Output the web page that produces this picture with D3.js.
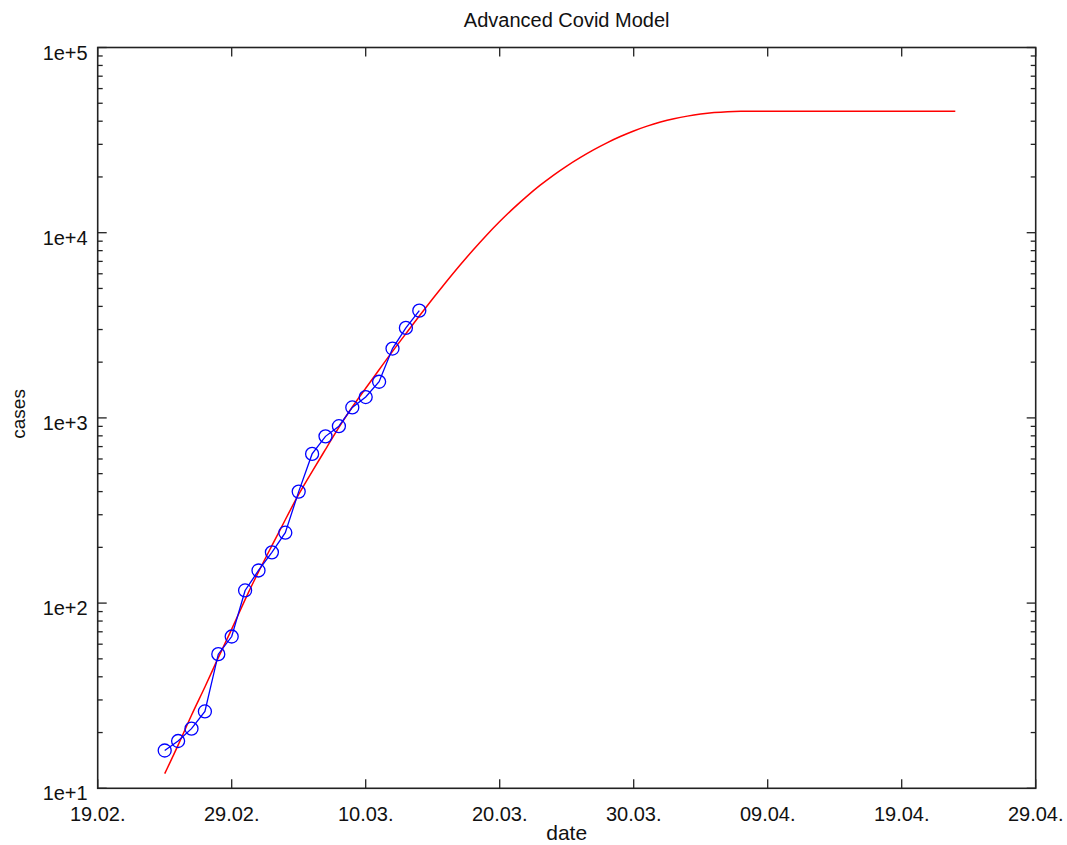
<!DOCTYPE html>
<html>
<head>
<meta charset="utf-8">
<script src="https://cdn.jsdelivr.net/npm/d3@7"></script>
<style>
  body { margin: 0; background: #fff; }
  text { font-family: "Liberation Sans", Arial, sans-serif; fill: #111; }
</style>
</head>
<body>
<div id="box"></div>
<script>
// canvas
const width = 1067
const height = 845
const margin = {top: 47.5, right: 31.3, bottom: 56.7, left: 97.7}

// data: reported cases, one per day starting 24.02.
const caseStart = '2020-02-24'
const cases = [16, 18, 21, 26, 53, 66, 117, 150, 188, 240, 400, 639, 795, 902, 1139, 1296, 1567, 2369, 3062, 3795]

// model curve, one value per day starting 24.02.
const modelStart = '2020-02-24'
const model = [12, 17, 25, 35, 51, 72, 105, 148, 204, 282,
  389, 513, 676, 891, 1150, 1445, 1820, 2290, 2850, 3550,
  4400, 5420, 6640, 8050, 9680, 11510, 13520, 15700, 18030, 20460,
  22960, 25470, 28050, 30620, 33110, 35480, 37670, 39630, 41300, 42660,
  43750, 44570, 45080, 45290, 45290, 45290, 45290, 45290, 45290, 45290,
  45290, 45290, 45290, 45290, 45290, 45290, 45290, 45290, 45290, 45290]

// axis settings
const xDomain = ['2020-02-19', '2020-04-29']
const xTickStep = 10
const yDomain = [10, 1e5]
const yTickLabels = ['1e+1', '1e+2', '1e+3', '1e+4', '1e+5']

const title = 'Advanced Covid Model'
const xLabel = 'date'
const yLabel = 'cases'

const parse = d3.utcParse('%Y-%m-%d')
const fmt = d3.utcFormat('%d.%m.')

const x = d3.scaleUtc()
  .domain(xDomain.map(parse))
  .range([margin.left, width - margin.right])

const y = d3.scaleLog()
  .domain(yDomain)
  .range([height - margin.bottom, margin.top])

const caseData = cases.map((v, i) => ({date: d3.utcDay.offset(parse(caseStart), i), value: v}))
const modelData = model.map((v, i) => ({date: d3.utcDay.offset(parse(modelStart), i), value: v}))

const svg = d3.select('#box').append('svg')
  .attr('width', width)
  .attr('height', height)

const x0 = margin.left, x1 = width - margin.right
const y0 = height - margin.bottom, y1 = margin.top

// tick positions
const xTicks = d3.utcDay.range(x.domain()[0], d3.utcDay.offset(x.domain()[1], 1), xTickStep)
const yMajor = d3.range(1, 6).map(e => Math.pow(10, e))
const yMinor = []
for (let e = 1; e < 5; e++) {
  for (let m = 2; m < 10; m++) yMinor.push(m * Math.pow(10, e))
}

const ticks = svg.append('g').attr('stroke', '#222').attr('stroke-width', 1.3)

// x ticks, bottom and top, pointing inward
ticks.selectAll('.xb').data(xTicks).join('line')
  .attr('x1', d => x(d)).attr('x2', d => x(d))
  .attr('y1', y0).attr('y2', y0 - 9)
ticks.selectAll('.xt').data(xTicks).join('line')
  .attr('x1', d => x(d)).attr('x2', d => x(d))
  .attr('y1', y1).attr('y2', y1 + 9)

// y ticks, left and right
const yTickData = yMajor.map(v => ({v, len: 9})).concat(yMinor.map(v => ({v, len: 5})))
ticks.selectAll('.yl').data(yTickData).join('line')
  .attr('x1', x0).attr('x2', d => x0 + d.len)
  .attr('y1', d => y(d.v)).attr('y2', d => y(d.v))
ticks.selectAll('.yr').data(yTickData).join('line')
  .attr('x1', x1).attr('x2', d => x1 - d.len)
  .attr('y1', d => y(d.v)).attr('y2', d => y(d.v))

// frame
svg.append('rect')
  .attr('x', x0).attr('y', y1)
  .attr('width', x1 - x0).attr('height', y0 - y1)
  .attr('fill', 'none')
  .attr('stroke', '#222')
  .attr('stroke-width', 1.6)

// tick labels
svg.append('g').attr('font-size', 20).attr('text-anchor', 'middle')
  .selectAll('text').data(xTicks).join('text')
  .attr('x', d => x(d))
  .attr('y', y0 + 33)
  .text(d => fmt(d))

svg.append('g').attr('font-size', 20).attr('text-anchor', 'end')
  .selectAll('text').data(yMajor).join('text')
  .attr('x', x0 - 10)
  .attr('y', d => y(d) + 12)
  .text((d, i) => yTickLabels[i])

// model line
const line = d3.line()
  .x(d => x(d.date))
  .y(d => y(d.value))
  .curve(d3.curveBasis)

svg.append('path')
  .datum(modelData)
  .attr('fill', 'none')
  .attr('stroke', '#ff0000')
  .attr('stroke-width', 1.5)
  .attr('d', line)

// reported cases
svg.append('path')
  .datum(caseData)
  .attr('fill', 'none')
  .attr('stroke', '#0000ff')
  .attr('stroke-width', 1.3)
  .attr('d', d3.line().x(d => x(d.date)).y(d => y(d.value)))

svg.append('g')
  .selectAll('circle').data(caseData).join('circle')
  .attr('cx', d => x(d.date))
  .attr('cy', d => y(d.value))
  .attr('r', 6.5)
  .attr('fill', 'none')
  .attr('stroke', '#0000ff')
  .attr('stroke-width', 1.3)

// titles
svg.append('text')
  .attr('x', (x0 + x1) / 2).attr('y', 27)
  .attr('text-anchor', 'middle').attr('font-size', 20)
  .text(title)

svg.append('text')
  .attr('x', (x0 + x1) / 2).attr('y', 840)
  .attr('text-anchor', 'middle').attr('font-size', 21)
  .text(xLabel)

svg.append('text')
  .attr('transform', `translate(25,${(y0 + y1) / 2 - 4}) rotate(-90)`)
  .attr('text-anchor', 'middle').attr('font-size', 19)
  .text(yLabel)
</script>
</body>
</html>
